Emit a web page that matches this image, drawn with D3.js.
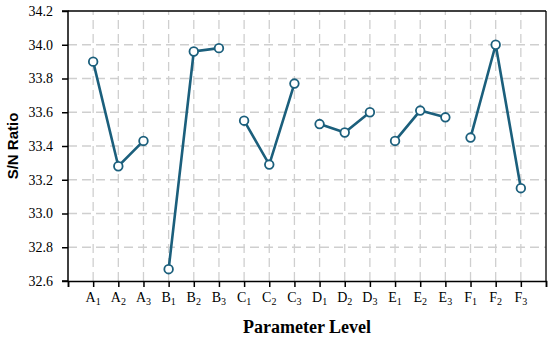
<!DOCTYPE html>
<html><head><meta charset="utf-8">
<script src="https://cdn.jsdelivr.net/npm/d3@7"></script>
<style>body{margin:0;background:#fff}</style>
</head><body>
<script>
const letters = ["A","A","A","B","B","B","C","C","C","D","D","D","E","E","E","F","F","F"];
const subs = ["1","2","3","1","2","3","1","2","3","1","2","3","1","2","3","1","2","3"];
const groups = ["A","B","C","D","E","F"];
const values = [33.90,33.28,33.43,32.67,33.96,33.98,33.55,33.29,33.77,33.53,33.48,33.60,33.43,33.61,33.57,33.45,34.00,33.15];
const yTicks = [32.6,32.8,33.0,33.2,33.4,33.6,33.8,34.0,34.2];

const W=550,H=339;
const m={l:68,r:4,t:11,b:58};
const svg=d3.select("body").append("svg").attr("width",W).attr("height",H);
const x=d3.scaleLinear().domain([0,values.length+1]).range([m.l,W-m.r]);
const y=d3.scaleLinear().domain([32.6,34.2]).range([H-m.b,m.t]);
const color="#1b5f7c";
const serif="'Liberation Serif','Times New Roman',serif";

// grid
const g=svg.append("g");
g.selectAll("line.h").data(yTicks.slice(1,-1)).join("line")
 .attr("x1",x(0)).attr("x2",x(values.length+1)).attr("y1",d=>y(d)).attr("y2",d=>y(d))
 .attr("stroke","#cfcfcf").attr("stroke-width",1.3).attr("stroke-dasharray","9,5");
g.selectAll("line.v").data(d3.range(1,values.length+1)).join("line")
 .attr("y1",y(32.6)).attr("y2",y(34.2)).attr("x1",d=>x(d)).attr("x2",d=>x(d))
 .attr("stroke","#cfcfcf").attr("stroke-width",1.3).attr("stroke-dasharray","9,5");

// frame
svg.append("line").attr("x1",x(0)).attr("x2",x(values.length+1)).attr("y1",y(34.2)).attr("y2",y(34.2)).attr("stroke","#000").attr("stroke-width",1.3);
svg.append("line").attr("x1",x(values.length+1)).attr("x2",x(values.length+1)).attr("y1",y(34.2)).attr("y2",y(32.6)).attr("stroke","#000").attr("stroke-width",1.3);

// axes
const ya=svg.append("g").attr("transform",`translate(${m.l},0)`)
 .call(d3.axisLeft(y).tickValues(yTicks).tickFormat(d3.format(".1f")).tickSize(6).tickPadding(9));
ya.attr("font-family",null).attr("font-size",null);
ya.selectAll("text").style("font-family",serif).style("font-size","14px").attr("fill","#000");
const xa=svg.append("g").attr("transform",`translate(0,${H-m.b})`)
 .call(d3.axisBottom(x).tickValues(d3.range(0,values.length+2)).tickFormat("").tickSize(6));
[ya,xa].forEach(a=>{a.select(".domain").attr("stroke","#000").attr("stroke-width",1.5);a.selectAll(".tick line").attr("stroke","#000").attr("stroke-width",1.5);});
ya.select(".domain").attr("d",`M-6,${y(34.2)}H0V${y(32.6)}H-6`);

// x labels with subscripts
const lab=svg.append("g");
letters.forEach((L,i)=>{
  const t=lab.append("text").attr("x",x(i+1)).attr("y",H-m.b+21).attr("text-anchor","middle")
   .style("font-family",serif).style("font-size","14px").attr("fill","#000");
  t.append("tspan").text(L);
  t.append("tspan").style("font-size","10px").attr("dy",3).text(subs[i]);
});

// lines per group
const line=d3.line().x(d=>x(d.i+1)).y(d=>y(d.v));
const pts=values.map((v,i)=>({v,i,g:letters[i]}));
groups.forEach(G=>{
  svg.append("path").datum(pts.filter(p=>p.g===G)).attr("d",line)
   .attr("fill","none").attr("stroke",color).attr("stroke-width",2.6);
});
svg.selectAll("circle").data(pts).join("circle")
 .attr("cx",d=>x(d.i+1)).attr("cy",d=>y(d.v)).attr("r",4.3)
 .attr("fill","#fff").attr("stroke",color).attr("stroke-width",1.8);

// axis titles
svg.append("text").attr("x",(x(0)+x(values.length+1))/2).attr("y",333).attr("text-anchor","middle")
 .style("font-family",serif).attr("font-weight","bold").style("font-size","18px").text("Parameter Level");
svg.append("text").attr("transform",`translate(18,${(y(32.6)+y(34.2))/2}) rotate(-90)`).attr("text-anchor","middle")
 .style("font-family","'Liberation Sans',Arial,sans-serif").attr("font-weight","bold").style("font-size","15px").text("S/N Ratio");
</script>
</body></html>
